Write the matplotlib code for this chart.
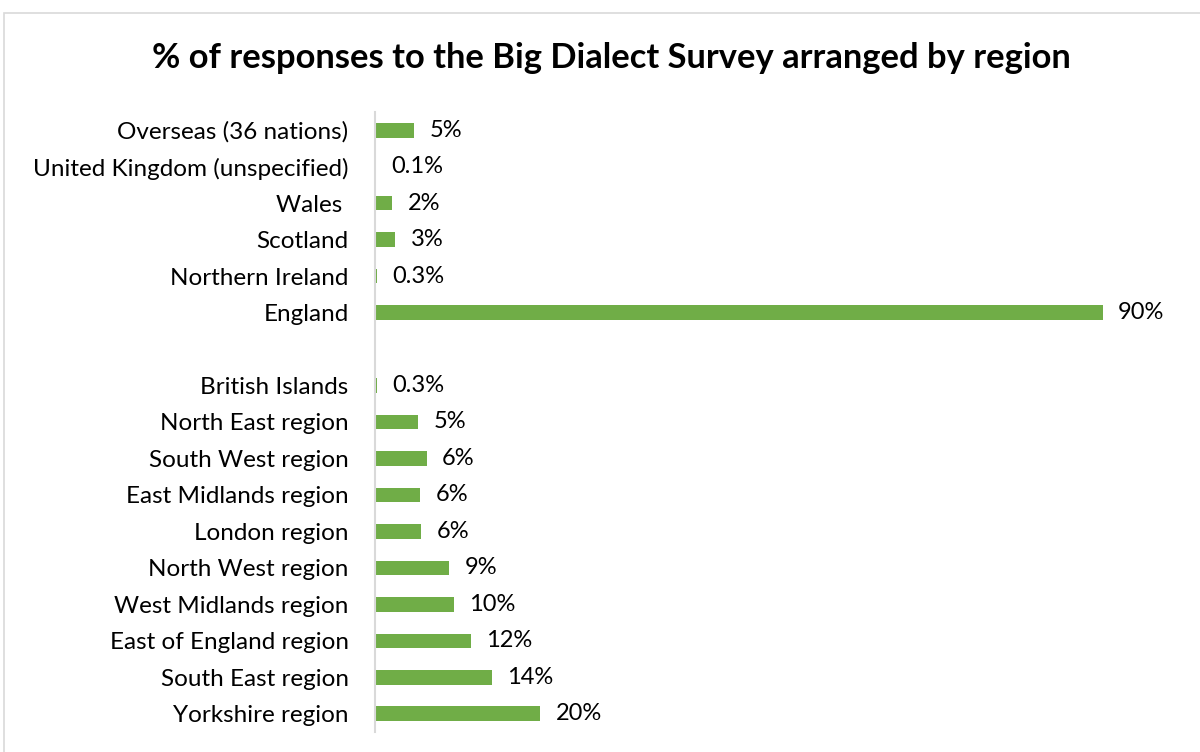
import matplotlib.pyplot as plt
from matplotlib.patches import Rectangle
import numpy as np

# categories listed bottom to top, "" is the empty gap row
categories = ["Yorkshire region", "South East region", "East of England region",
              "West Midlands region", "North West region", "London region",
              "East Midlands region", "South West region", "North East region",
              "British Islands", "", "England", "Northern Ireland", "Scotland",
              "Wales ", "United Kingdom (unspecified)", "Overseas (36 nations)"]
values = [20.45, 14.43, 11.84, 9.73, 9.15, 5.69, 5.57, 6.39, 5.36,
          0.3, 0, 90.0, 0.3, 2.51, 2.14, 0.1, 4.86]
value_labels = ["20%", "14%", "12%", "10%", "9%", "6%", "6%", "6%", "5%",
                "0.3%", "", "90%", "0.3%", "3%", "2%", "0.1%", "5%"]


def main():
    plt.rcParams['font.family'] = ['Lato', 'DejaVu Sans']
    fig = plt.figure(figsize=(12, 7.52), dpi=100)
    ax = fig.add_axes([375 / 1200, 20 / 752, 744 / 1200, 620 / 752])

    y = np.arange(len(categories))
    ax.barh(y, values, height=0.4, color="#70AD47")
    ax.set_ylim(-0.5, len(categories) - 0.5)
    ax.set_xlim(0, 92)
    ax.set_yticks(y)
    ax.set_yticklabels(categories, fontsize=17.5, color="#000000")
    ax.tick_params(axis='y', length=0, pad=19)
    ax.set_xticks([])

    for i in range(len(values)):
        if value_labels[i] == "":
            continue
        ax.annotate(value_labels[i], (values[i], y[i]), xytext=(11, 0),
                    textcoords="offset points", va="center", ha="left",
                    fontsize=17)

    for s in ["top", "right", "bottom"]:
        ax.spines[s].set_visible(False)
    ax.spines["left"].set_color("#d9d9d9")
    ax.spines["left"].set_linewidth(1.5)

    fig.text(611 / 1200, 1 - 58 / 752,
             "% of responses to the Big Dialect Survey arranged by region",
             ha="center", va="center", fontsize=24.8, fontweight="bold")

    fig.patches.append(Rectangle((4 / 1200, -0.05), 1.0, 1 - 13 / 752 + 0.05,
                                 transform=fig.transFigure, fill=False,
                                 edgecolor="#d9d9d9", linewidth=1.2))

    fig.savefig("out.png", dpi=100)
    plt.close()


if __name__ == "__main__":
    main()
